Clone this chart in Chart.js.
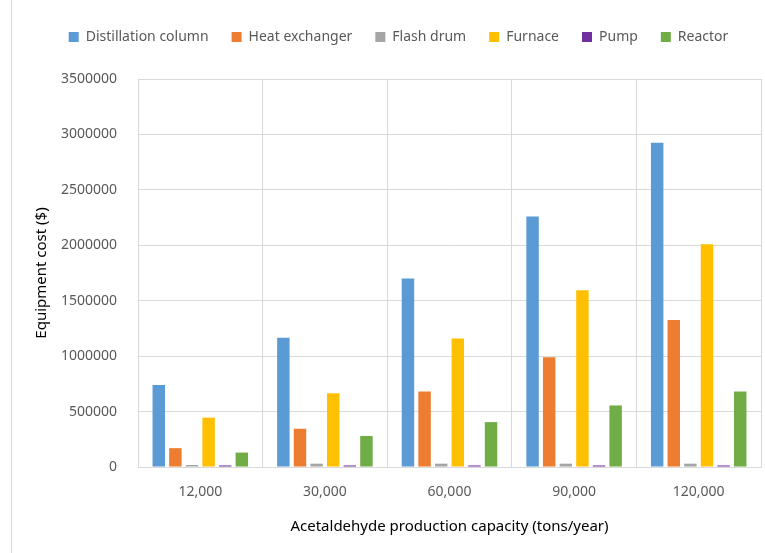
<!DOCTYPE html>
<html>
<head>
<meta charset="utf-8">
<script src="https://cdn.jsdelivr.net/npm/chart.js@4.4.1/dist/chart.umd.min.js"></script>
<style>
  html, body { margin: 0; padding: 0; background: #ffffff; }
  #wrap { position: relative; width: 765px; height: 553px; }
  #edge { position: absolute; left: 11px; top: 0; width: 1px; height: 553px; background: #d9d9d9; }
  canvas { position: absolute; left: 0; top: 0; }
</style>
</head>
<body>
<div id="wrap">
  <canvas id="chart" width="765" height="553"></canvas>
  <div id="edge"></div>
</div>
<script>
// Production capacities (tons/year)
const capacities = ['12,000', '30,000', '60,000', '90,000', '120,000'];

// Equipment cost per unit type ($)
const distillationColumn = [740000, 1165000, 1700000, 2260000, 2925000];
const heatExchanger      = [170000, 345000, 680000, 990000, 1325000];
const flashDrum          = [18000, 30000, 30000, 30000, 30000];
const furnace            = [445000, 665000, 1160000, 1595000, 2010000];
const pump               = [14000, 14000, 14000, 14000, 14000];
const reactor            = [130000, 280000, 405000, 555000, 680000];

const seriesNames  = ['Distillation column', 'Heat exchanger', 'Flash drum', 'Furnace', 'Pump', 'Reactor'];
const seriesValues = [distillationColumn, heatExchanger, flashDrum, furnace, pump, reactor];
const seriesColors = ['#5B9BD5', '#ED7D31', '#A5A5A5', '#FFC000', '#7030A0', '#70AD47'];

const FONT = 'Noto Sans';
const GRID = '#d9d9d9';

// Extra gap below the legend, and legend centred over the whole frame
const legendTweak = {
  id: 'legendTweak',
  beforeInit(chart) {
    const legend = chart.legend;
    const fit = legend.fit;
    legend.fit = function () {
      fit.call(this);
      this.height += 25;
    };
    const draw = legend.draw;
    legend.draw = function () {
      const ctx = this.ctx;
      ctx.save();
      ctx.translate(12, 0);
      draw.call(this);
      ctx.restore();
    };
  }
};

const chart = new Chart(document.getElementById('chart'), {
  type: 'bar',
  data: {
    labels: capacities,
    datasets: seriesNames.map((name, i) => ({
      label: name,
      data: seriesValues[i],
      backgroundColor: seriesColors[i],
      borderWidth: 0,
      categoryPercentage: 0.8,
      barPercentage: 0.75
    }))
  },
  options: {
    responsive: false,
    animation: false,
    layout: { padding: { left: 12, right: 4, top: 7, bottom: 0 } },
    plugins: {
      tooltip: { enabled: false },
      legend: {
        position: 'top',
        labels: {
          boxWidth: 10,
          boxHeight: 10,
          padding: 23,
          color: '#595959',
          font: { family: FONT, size: 14 }
        }
      }
    },
    scales: {
      x: {
        offset: true,
        grid: { display: true, color: GRID, lineWidth: 1, drawTicks: false, offset: true },
        border: { display: true, color: GRID, width: 1 },
        ticks: { color: '#595959', padding: 17, font: { family: FONT, size: 14 } },
        title: {
          display: true,
          text: 'Acetaldehyde production capacity (tons/year)',
          color: '#000000',
          font: { family: FONT, size: 15 },
          padding: { top: 14, bottom: 17 }
        },
        afterFit: (scale) => { scale.height = 86; }
      },
      y: {
        min: 0,
        max: 3500000,
        grid: { color: GRID, lineWidth: 1, drawTicks: false },
        border: { display: false },
        ticks: {
          stepSize: 500000,
          color: '#595959',
          padding: 21,
          font: { family: FONT, size: 14 },
          callback: (v) => String(v)
        },
        title: {
          display: true,
          text: 'Equipment cost ($)',
          color: '#000000',
          font: { family: FONT, size: 15 },
          padding: { top: 21, bottom: 0 }
        },
        afterFit: (scale) => { scale.width = 126; }
      }
    }
  },
  plugins: [legendTweak]
});
</script>
</body>
</html>
